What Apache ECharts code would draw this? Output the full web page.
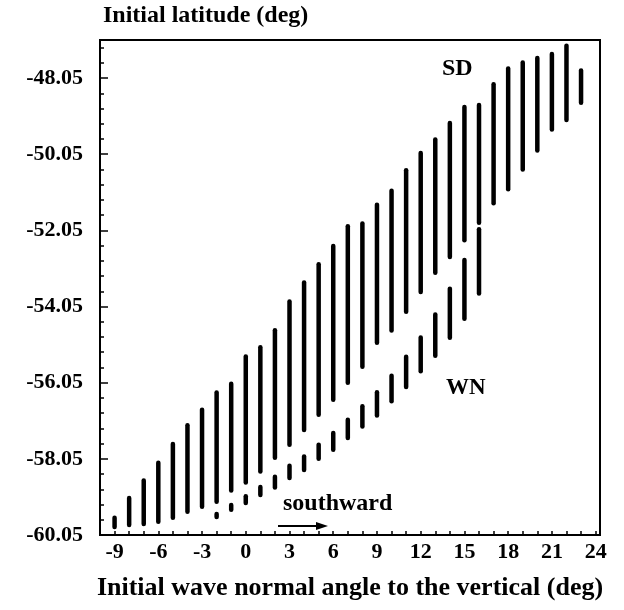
<!DOCTYPE html>
<html lang="en">
<head>
    <meta charset="UTF-8">
    <title>Initial latitude vs wave normal angle</title>
    <script src="https://cdn.jsdelivr.net/npm/echarts@6/dist/echarts.min.js"></script>
    <style type="text/css">
        html, body {
            margin: 0;
            height: 100%;
            background: #fff;
        }
        #chart {
            width: 624px;
            height: 610px;
        }
    </style>
</head>
<body>
    <div id="chart"></div>
    <script type="text/javascript">
        // SD band: one bar per initial angle, [low, high] latitude
        var sdAngles = [-9, -8, -7, -6, -5, -4, -3, -2, -1, 0, 1, 2, 3, 4, 5, 6, 7,
                        8, 9, 10, 11, 12, 13, 14, 15, 16, 17, 18, 19, 20, 21, 22, 23];
        var sdLow  = [-59.84, -59.79, -59.76, -59.70, -59.60, -59.44, -59.31, -59.18, -58.88,
                      -58.67, -58.38, -58.02, -57.68, -57.29, -56.89, -56.50, -56.05, -55.63,
                      -55.00, -54.68, -54.19, -53.67, -53.16, -52.75, -52.31, -51.85, -51.34,
                      -50.97, -50.45, -49.95, -49.40, -49.15, -48.70];
        var sdHigh = [-59.60, -59.08, -58.62, -58.15, -57.66, -57.17, -56.76, -56.31, -56.08,
                      -55.36, -55.12, -54.67, -53.92, -53.42, -52.94, -52.46, -51.94, -51.87,
                      -51.38, -51.01, -50.47, -50.02, -49.66, -49.23, -48.81, -48.76, -48.21,
                      -47.80, -47.64, -47.52, -47.42, -47.20, -47.85];

        // WN band
        var wnAngles = [-2, -1, 0, 1, 2, 3, 4, 5, 6, 7, 8, 9, 10, 11, 12, 13, 14, 15, 16];
        var wnLow  = [-59.58, -59.39, -59.21, -59.00, -58.80, -58.55, -58.34, -58.05, -57.81,
                      -57.50, -57.20, -56.91, -56.54, -56.16, -55.75, -55.34, -54.87, -54.37, -53.71];
        var wnHigh = [-59.50, -59.26, -59.03, -58.79, -58.52, -58.23, -57.99, -57.68, -57.37,
                      -57.02, -56.67, -56.30, -55.87, -55.37, -54.86, -54.26, -53.58, -52.83, -52.02];

        var labelFont = 'Liberation Serif';

        function toRows(xs, lo, hi) {
            var rows = [];
            for (var i = 0; i < xs.length; i++) {
                rows.push([xs[i], lo[i], hi[i]]);
            }
            return rows;
        }

        function renderBar(params, api) {
            var p1 = api.coord([api.value(0), api.value(1)]);
            var p2 = api.coord([api.value(0), api.value(2)]);
            return {
                type: 'line',
                shape: { x1: p1[0], y1: p1[1], x2: p2[0], y2: p2[1] },
                style: { stroke: '#000', lineWidth: 4.5, lineCap: 'round' }
            };
        }

        function boldText(txt, size) {
            return { text: txt, fontFamily: labelFont, fontWeight: 'bold', fontSize: size, fill: '#000' };
        }

        var chart = echarts.init(document.getElementById('chart'));

        var option = {
            backgroundColor: '#fff',
            animation: false,
            grid: {
                left: 100,
                top: 40,
                right: 24,
                bottom: 75,
                show: true,
                borderColor: '#000',
                borderWidth: 2
            },
            xAxis: {
                type: 'value',
                min: -10,
                max: 24.3,
                interval: 1,
                name: 'Initial wave normal angle to the vertical (deg)',
                nameLocation: 'middle',
                nameGap: 40,
                nameTextStyle: {
                    fontFamily: labelFont,
                    fontWeight: 'bold',
                    fontSize: 26,
                    color: '#000'
                },
                axisLine: { onZero: false, lineStyle: { color: '#000', width: 2 } },
                axisTick: { inside: true, length: 4, lineStyle: { color: '#000', width: 1.5 } },
                axisLabel: {
                    margin: 6,
                    fontFamily: labelFont,
                    fontWeight: 'bold',
                    fontSize: 22,
                    color: '#000',
                    formatter: function (v) {
                        var r = Math.round(v);
                        return (Math.abs(v - r) < 1e-6 && r % 3 === 0 && r > -10) ? String(r) : '';
                    }
                },
                splitLine: { show: false }
            },
            yAxis: {
                type: 'value',
                min: -60.05,
                max: -47.05,
                interval: 2,
                name: 'Initial latitude (deg)',
                nameLocation: 'end',
                nameGap: 12,
                nameTextStyle: {
                    align: 'left',
                    padding: [0, 0, 0, 3],
                    fontFamily: labelFont,
                    fontWeight: 'bold',
                    fontSize: 24,
                    color: '#000'
                },
                axisLine: { onZero: false, lineStyle: { color: '#000', width: 2 } },
                axisTick: { inside: true, length: 8, lineStyle: { color: '#000', width: 1.5 } },
                minorTick: { show: true, splitNumber: 5, length: 4, lineStyle: { color: '#000', width: 1.5 } },
                axisLabel: {
                    margin: 17,
                    showMaxLabel: false,
                    fontFamily: labelFont,
                    fontWeight: 'bold',
                    fontSize: 22,
                    color: '#000',
                    formatter: function (v) { return v.toFixed(2); }
                },
                splitLine: { show: false }
            },
            series: [
                {
                    name: 'SD',
                    type: 'custom',
                    renderItem: renderBar,
                    data: toRows(sdAngles, sdLow, sdHigh)
                },
                {
                    name: 'WN',
                    type: 'custom',
                    renderItem: renderBar,
                    data: toRows(wnAngles, wnLow, wnHigh)
                }
            ],
            graphic: [
                { type: 'text', left: 442, top: 57, style: boldText('SD', 24) },
                { type: 'text', left: 446, top: 377, style: boldText('WN', 23) },
                { type: 'text', left: 283, top: 492, style: boldText('southward', 24) },
                {
                    type: 'line',
                    shape: { x1: 278, y1: 526, x2: 320, y2: 526 },
                    style: { stroke: '#000', lineWidth: 2 }
                },
                {
                    type: 'polygon',
                    shape: { points: [[328, 526], [316, 522], [316, 530]] },
                    style: { fill: '#000' }
                }
            ]
        };

        chart.setOption(option);
    </script>
</body>
</html>
